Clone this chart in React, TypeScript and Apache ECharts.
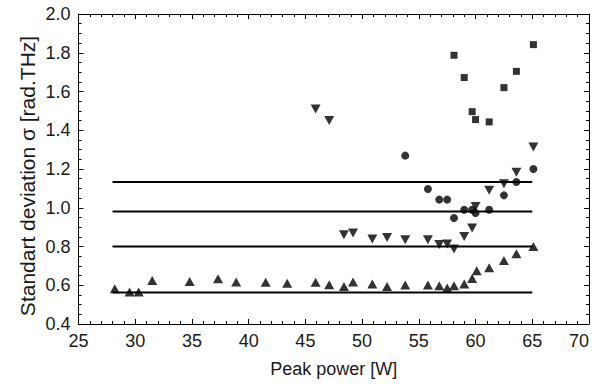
import React, { useEffect, useRef } from "react";
import * as echarts from "echarts";

const triUp: [number, number][] = [
  [28.2, 0.582], [29.5, 0.565], [30.3, 0.565], [31.5, 0.625], [34.8, 0.62],
  [37.3, 0.634], [38.9, 0.617], [41.5, 0.615], [43.4, 0.61], [45.9, 0.616],
  [47.1, 0.603], [48.4, 0.594], [49.2, 0.617], [50.9, 0.606], [52.2, 0.594],
  [53.8, 0.601], [55.8, 0.601], [56.8, 0.598], [57.5, 0.586], [58.1, 0.598],
  [59.0, 0.606], [59.7, 0.635], [60.1, 0.675], [61.2, 0.69], [62.5, 0.728],
  [63.6, 0.763], [65.1, 0.8],
];

const triDown: [number, number][] = [
  [45.9, 1.51], [47.1, 1.45], [48.4, 0.861], [49.2, 0.87], [50.9, 0.839],
  [52.2, 0.847], [53.8, 0.835], [55.8, 0.835], [56.8, 0.81], [57.5, 0.813],
  [58.1, 0.787], [59.0, 0.852], [59.7, 0.896], [60.0, 1.007], [61.2, 1.09],
  [62.5, 1.124], [63.6, 1.183], [65.1, 1.314],
];

const circles: [number, number][] = [
  [53.8, 1.269], [55.8, 1.097], [56.8, 1.042], [57.5, 1.042], [58.1, 0.947],
  [59.0, 0.99], [59.7, 0.99], [60.0, 0.973], [61.2, 0.99], [62.5, 1.064],
  [63.6, 1.133], [65.1, 1.2],
];

const squares: [number, number][] = [
  [58.1, 1.787], [59.0, 1.672], [59.7, 1.496], [60.0, 1.455], [61.2, 1.443],
  [62.5, 1.62], [63.6, 1.704], [65.1, 1.842],
];

const refLevels: number[] = [1.133, 0.981, 0.8, 0.563];
const refRange: [number, number] = [28, 65];

const xAxisName = "Peak power [W]";
const yAxisName = "Standart deviation σ [rad.THz]";

const FONT = "Liberation Sans, Arial, sans-serif";
const INK = "#000";
const TXT = "#1a1a1a";

export default function App() {
  const ref = useRef<HTMLDivElement>(null);
  useEffect(() => {
    if (!ref.current) return;
    const chart = echarts.init(ref.current, undefined, { renderer: "svg" });
    const axisCommon = {
      axisLine: { show: true, lineStyle: { color: INK, width: 1 } },
      axisTick: { show: true, inside: true, length: 5, lineStyle: { color: INK, width: 1 } },
      minorTick: { show: true, length: 3, lineStyle: { color: INK, width: 1 } },
      splitLine: { show: false },
    };
    const lineSeries = refLevels.map((v) => ({
      type: "line",
      data: [[refRange[0], v], [refRange[1], v]],
      showSymbol: false,
      symbol: "none",
      lineStyle: { color: INK, width: 2 },
      silent: true,
      z: 1,
    }));
    chart.setOption({
      animation: false,
      backgroundColor: "#fff",
      grid: { left: 78.5, right: 17, top: 14, bottom: 62, containLabel: false },
      graphic: [
        {
          type: "text",
          x: 27,
          y: 176,
          rotation: Math.PI / 2,
          style: {
            text: yAxisName,
            fill: TXT,
            font: `21px ${FONT}`,
            textAlign: "center",
            textVerticalAlign: "middle",
          },
        },
      ],
      xAxis: [
        {
          ...axisCommon,
          type: "value",
          min: 25,
          max: 70,
          interval: 5,
          minorTick: { ...axisCommon.minorTick, splitNumber: 5 },
          axisLabel: {
            color: TXT,
            fontFamily: FONT,
            fontSize: 18,
            margin: 8,
            alignMaxLabel: "right",
          },
          name: xAxisName,
          nameLocation: "middle",
          nameGap: 36,
          nameTextStyle: { color: TXT, fontFamily: FONT, fontSize: 18 },
        },
        {
          ...axisCommon,
          type: "value",
          position: "top",
          min: 25,
          max: 70,
          interval: 5,
          minorTick: { ...axisCommon.minorTick, splitNumber: 5 },
          axisLabel: { show: false },
        },
      ],
      yAxis: [
        {
          ...axisCommon,
          type: "value",
          min: 0.4,
          max: 2.0,
          interval: 0.2,
          minorTick: { ...axisCommon.minorTick, splitNumber: 4 },
          axisLabel: {
            color: TXT,
            fontFamily: FONT,
            fontSize: 18,
            margin: 8,
            formatter: (v: number) => v.toFixed(1),
          },
        },
        {
          ...axisCommon,
          type: "value",
          position: "right",
          min: 0.4,
          max: 2.0,
          interval: 0.2,
          minorTick: { ...axisCommon.minorTick, splitNumber: 4 },
          axisLabel: { show: false },
        },
      ],
      series: [
        ...lineSeries,
        {
          type: "scatter",
          data: triUp,
          symbol: "triangle",
          symbolSize: [10, 9],
          itemStyle: { color: INK },
          z: 3,
        },
        {
          type: "scatter",
          data: triDown,
          symbol: "triangle",
          symbolRotate: 180,
          symbolSize: [10, 9],
          itemStyle: { color: INK },
          z: 3,
        },
        {
          type: "scatter",
          data: circles,
          symbol: "circle",
          symbolSize: 8,
          itemStyle: { color: INK },
          z: 3,
        },
        {
          type: "scatter",
          data: squares,
          symbol: "rect",
          symbolSize: 7,
          itemStyle: { color: INK },
          z: 3,
        },
      ],
    });
    return () => chart.dispose();
  }, []);
  return (
    <div
      ref={ref}
      style={{ position: "fixed", left: 0, top: 0, width: 606, height: 386, background: "#fff" }}
    />
  );
}
